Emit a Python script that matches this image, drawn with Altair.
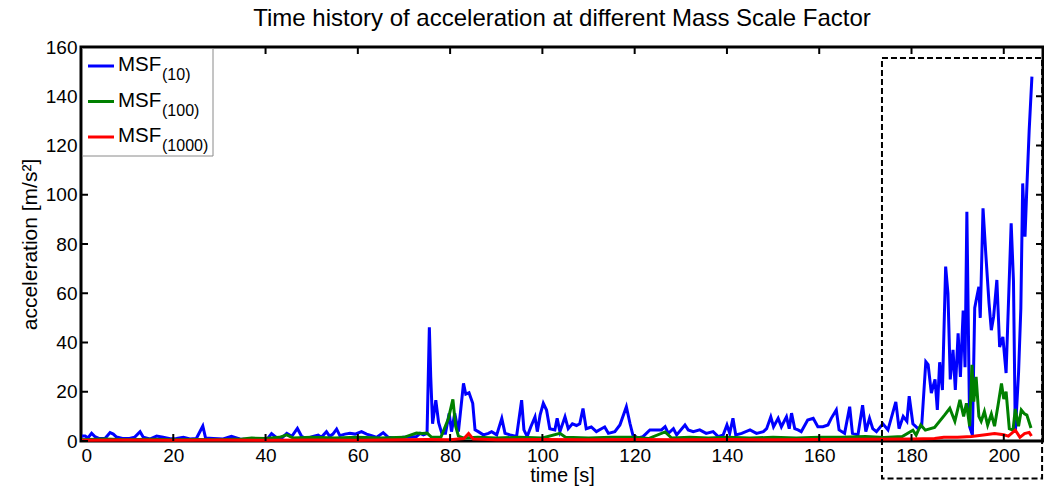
import altair as alt
import pandas as pd

# ---------------- data ----------------
blue_t = [0.0, 0.9, 1.5, 2.3, 3.0, 4.0, 5.2, 6.3, 7.0, 7.7, 9.0, 10.5, 11.6, 12.8, 13.5, 14.9, 16.4, 17.8,
          19.3, 20.7, 22.2, 23.6, 25.0, 26.4, 27.0, 28.7, 30.8, 32.6, 34.4, 35.9, 37.3, 38.8, 40.3, 41.3,
          42.3, 43.4, 44.6, 45.7, 46.9, 47.8, 48.9, 50.3, 51.4, 52.1, 53.2, 53.9, 54.6, 55.4, 56.1, 57.2,
          58.3, 59.4, 60.8, 61.9, 63.0, 64.1, 65.5, 66.6, 68.4, 69.8, 71.2, 72.7,
          73.5, 74.2, 75.0, 75.5, 75.8, 76.2, 76.9, 77.5, 78.2, 79.0, 79.8, 80.3, 81.0, 81.8, 82.9, 83.4,
          84.1, 84.9, 85.4, 86.1, 87.2, 88.3, 89.0, 90.1, 91.2, 91.9, 93.0, 94.4, 95.5, 96.0, 96.7, 97.5,
          98.4, 98.9, 99.5, 100.2, 100.9, 101.6, 102.7, 103.2, 103.8, 104.9, 105.6, 106.5, 107.4, 108.1,
          108.8, 109.5, 110.6, 111.7, 112.8, 113.5, 114.3, 115.7, 116.8, 118.2, 119.0, 119.6, 120.7, 121.8,
          123.3, 124.7, 125.8, 126.6, 127.3, 128.4, 129.1, 130.9, 131.6, 132.7, 134.1, 135.5, 137.0, 138.1,
          139.2, 140.0, 140.6, 141.3, 141.9, 143.2, 145.0, 146.4, 147.9, 148.6, 149.5, 150.1, 151.1, 151.8,
          152.9, 153.5, 154.0, 154.7, 155.4, 156.1, 157.5, 158.7, 159.7, 160.8, 161.9, 162.6, 163.7, 164.3,
          165.5, 166.6, 167.2, 168.4, 169.4, 170.1, 170.9, 171.6, 172.4, 173.8, 174.9,
          176.6, 177.3, 178.2, 179.0, 179.5, 180.3, 181.4, 182.2, 183.1, 183.6, 184.3, 185.1, 185.6, 186.1,
          186.7, 187.4, 187.9, 188.4, 189.0, 189.5, 190.1, 190.6, 191.2, 191.6, 192.0, 192.6, 193.2, 193.7,
          194.1, 194.6, 194.9, 195.5, 196.1, 196.8, 197.3, 197.8, 198.5, 199.1, 199.8, 200.5, 201.6, 202.1,
          202.5, 203.2, 203.7, 204.1, 204.6, 205.0, 205.5, 206.1]
blue_v = [2.0, 2.0, 1.2, 3.1, 1.8, 1.0, 1.0, 3.4, 2.8, 1.6, 1.0, 1.0, 1.5, 3.8, 1.5, 0.8, 2.0, 1.5,
          0.9, 1.0, 1.5, 0.8, 1.0, 6.1, 1.2, 1.0, 0.8, 1.9, 0.8, 0.6, 0.8, 0.6, 0.6, 3.0,
          1.5, 1.0, 3.1, 1.9, 5.1, 1.9, 1.0, 1.9, 2.4, 1.5, 3.8, 1.9, 2.8, 4.8, 2.2, 2.8,
          3.1, 2.8, 3.8, 2.8, 2.2, 1.5, 3.4, 1.5, 1.0, 1.5, 1.5, 1.8,
          3.1, 2.5, 3.1, 46.2, 26.0, 7.0, 16.6, 7.5, 3.1, 3.1, 11.3, 3.8, 11.3, 3.8, 23.4, 19.0,
          19.6, 15.3, 4.5, 3.8, 2.5, 3.1, 3.8, 2.5, 9.2, 3.1, 2.5, 1.8, 16.6, 4.5, 1.8, 5.8,
          9.8, 3.8, 10.5, 15.3, 12.6, 5.0, 4.5, 9.2, 3.8, 9.8, 5.0, 7.0, 6.3, 7.0,
          13.2, 5.0, 5.7, 3.8, 5.0, 5.7, 3.1, 3.8, 6.5, 13.9, 7.0, 2.5, 1.2, 1.8,
          4.5, 4.5, 4.5, 5.8, 3.1, 5.0, 2.5, 6.5, 4.5, 3.8, 4.5, 3.1, 3.8, 1.8,
          2.5, 6.5, 3.1, 9.2, 2.5, 3.1, 4.5, 3.1, 3.8, 5.0, 9.8, 5.8, 9.2, 5.8,
          9.8, 5.0, 11.3, 5.0, 4.5, 3.8, 8.5, 9.2, 5.8, 5.8, 6.5, 9.2, 12.6, 4.5,
          3.1, 13.9, 3.1, 2.5, 14.5, 3.8, 9.2, 5.0, 3.8, 7.0, 4.5,
          15.9, 5.0, 10.0, 8.0, 18.2, 7.0, 5.0, 6.0, 32.2, 31.0, 19.5, 25.0, 12.6, 32.0,
          20.7, 70.8, 60.0, 25.0, 37.0, 20.7, 43.7, 26.0, 53.0, 30.0, 93.1, 5.8, 2.4, 54.0,
          58.0, 62.6, 50.0, 94.5, 76.0, 56.0, 45.0, 50.5, 65.4, 38.2, 42.3, 27.6, 88.4, 65.0,
          3.3, 27.6, 54.0, 104.6, 83.0, 103.0, 126.0, 148.0]

green_t = [0, 5, 10, 15, 20, 25, 30, 35, 37, 40, 43, 44.6, 46, 50, 55, 60, 65, 70, 72.7, 74, 75, 76, 78,
           79.6, 80.6, 81.2, 81.8, 83, 86, 90, 95, 100, 103.8, 105, 110, 115, 120, 123, 126.6, 128, 132,
           136, 140, 145, 150, 155, 160, 165, 170, 174, 178, 180.3, 181, 182, 183, 185, 187.2, 188.3,
           189.4, 190.5, 191.3, 191.9, 192.6, 193.1, 193.5, 194.0, 194.6, 195.1, 195.8, 196.5, 197.3,
           198.0, 198.8, 199.5, 200.0, 200.5, 201.2, 202.0, 202.5, 203.2, 203.8, 204.5, 205.0, 205.9]
green_v = [0.5, 0.8, 0.5, 0.7, 0.5, 0.6, 0.5, 0.8, 1.2, 1.0, 1.5, 2.5, 1.2, 1.5, 1.2, 1.5, 1.2, 1.5, 3.2,
           3.0, 3.2, 1.5, 1.5, 8.9, 16.9, 6.0, 2.0, 1.2, 1.5, 1.2, 1.5, 1.2, 3.1, 1.5, 1.2, 1.5, 1.5, 1.0,
           3.7, 1.2, 1.5, 1.2, 1.5, 1.2, 1.5, 1.2, 1.5, 1.5, 1.8, 1.4, 1.8, 4.4, 2.4, 6.5, 4.4, 5.5, 10.6,
           13.3, 8.0, 16.7, 10.0, 15.3, 6.0, 30.9, 16.0, 26.0, 10.0, 8.0, 12.0, 6.5, 11.0, 6.0, 15.0,
           23.4, 17.0, 20.0, 5.0, 4.4, 13.0, 6.0, 12.6, 11.0, 10.5, 5.3]

red_t = [0, 10, 20, 30, 40, 50, 60, 70, 75, 80, 83, 84, 85, 90, 100, 110, 120, 130, 140, 150, 160, 170,
         180, 185, 187, 190, 193, 196, 198, 200, 201, 202.5, 203.5, 204.5, 205.5, 206]
red_v = [0.3, 0.4, 0.3, 0.4, 0.3, 0.4, 0.3, 0.5, 0.6, 0.5, 1.0, 3.0, 0.8, 0.5, 0.6, 0.5, 0.6, 0.5, 0.6,
         0.5, 0.6, 0.7, 0.8, 1.0, 1.5, 1.5, 1.8, 2.5, 3.0, 2.5, 2.0, 4.4, 1.5, 3.0, 3.5, 2.0]

series_colors = ["#0000FF", "#008000", "#FF0000"]
legend_main = ["MSF", "MSF", "MSF"]
legend_sub = ["(10)", "(100)", "(1000)"]

x_ticks = [0, 20, 40, 60, 80, 100, 120, 140, 160, 180, 200]
y_ticks = [0, 20, 40, 60, 80, 100, 120, 140, 160]

# dashed highlight box (data coordinates)
box_x = [173.6]
box_x2 = [208.3]
box_y = [155.5]
box_y2 = [-15.2]

X_DOMAIN = [0, 208.5]
Y_DOMAIN = [0, 160]
W, H = 962, 394
FONT = "Liberation Sans"

xs = alt.Scale(domain=X_DOMAIN, nice=False, zero=False)
ys = alt.Scale(domain=Y_DOMAIN, nice=False)
x_axis = alt.Axis(values=x_ticks, format="d", labelPadding=5, titlePadding=0, titleFontSize=20)
y_axis = alt.Axis(values=y_ticks, format="d", labelPadding=4, titlePadding=5)


def X(field):
    return alt.X(field, type="quantitative", scale=xs, axis=x_axis, title="time [s]")


def Y(field):
    return alt.Y(field, type="quantitative", scale=ys, axis=y_axis, title="acceleration [m/s²]")


# ---------------- lines ----------------
def line_layer(t, v, color):
    df = pd.DataFrame({"t": t, "v": v})
    return alt.Chart(df).mark_line(color=color, strokeWidth=3).encode(x=X("t"), y=Y("v"))


blue = line_layer(blue_t, blue_v, series_colors[0])
green = line_layer(green_t, green_v, series_colors[1])
red = line_layer(red_t, red_v, series_colors[2])

# ---------------- inward ticks ----------------
xt = pd.DataFrame({"t": x_ticks})
yt = pd.DataFrame({"v": y_ticks})
tick_bottom = alt.Chart(xt).mark_rule(color="black", strokeWidth=2).encode(
    x=X("t"), y=alt.value(H), y2=alt.value(H - 7))
tick_top = alt.Chart(xt).mark_rule(color="black", strokeWidth=2).encode(
    x=X("t"), y=alt.value(0), y2=alt.value(7))
tick_left = alt.Chart(yt).mark_rule(color="black", strokeWidth=2).encode(
    y=Y("v"), x=alt.value(0), x2=alt.value(7))
tick_right = alt.Chart(yt).mark_rule(color="black", strokeWidth=2).encode(
    y=Y("v"), x=alt.value(W), x2=alt.value(W - 7))

# ---------------- dashed box ----------------
box_df = pd.DataFrame({"t": box_x, "t2": box_x2, "v": box_y, "v2": box_y2})
box = alt.Chart(box_df).mark_rect(fillOpacity=0, stroke="black", strokeWidth=2,
                                  strokeDash=[6, 3], clip=False).encode(
    x=X("t"), x2="t2:Q", y=Y("v"), y2="v2:Q")

# ---------------- legend ----------------
one = pd.DataFrame({"a": [0]})
leg_layers = [
    alt.Chart(one).mark_rect(fill="white", stroke="#8a8a8a", strokeWidth=1).encode(
        x=alt.value(1.5), x2=alt.value(132), y=alt.value(1.5), y2=alt.value(109))
]
leg_y = [19, 54.5, 90]
for ly, col, main, sub in zip(leg_y, series_colors, legend_main, legend_sub):
    leg_layers.append(alt.Chart(one).mark_rule(strokeWidth=3, color=col).encode(
        x=alt.value(7), x2=alt.value(33), y=alt.value(ly)))
    leg_layers.append(alt.Chart(one).mark_text(
        align="left", baseline="alphabetic", font=FONT, fontSize=20.5, color="black", text=main
    ).encode(x=alt.value(37), y=alt.value(ly + 5)))
    leg_layers.append(alt.Chart(one).mark_text(
        align="left", baseline="alphabetic", font=FONT, fontSize=16, color="black", text=sub
    ).encode(x=alt.value(81), y=alt.value(ly + 14)))

chart = alt.layer(
    blue, green, red, box, tick_bottom, tick_top, tick_left, tick_right, *leg_layers
).properties(
    width=W, height=H,
    title=alt.TitleParams("Time history of acceleration at different Mass Scale Factor",
                          font=FONT, fontSize=24, fontWeight="normal", color="black",
                          anchor="middle", offset=7),
    padding={"left": 81, "top": 47, "right": 1, "bottom": 48},
    autosize=alt.AutoSizeParams(type="none"),
    background="white",
).configure_view(
    stroke="black", strokeWidth=3
).configure_axis(
    labelFont=FONT, labelFontSize=19, labelColor="black",
    titleFont=FONT, titleFontSize=21, titleFontWeight="normal", titleColor="black",
    grid=False, ticks=False, domain=False,
)

chart.save("out.html", embed_options={"renderer": "svg", "actions": False})
